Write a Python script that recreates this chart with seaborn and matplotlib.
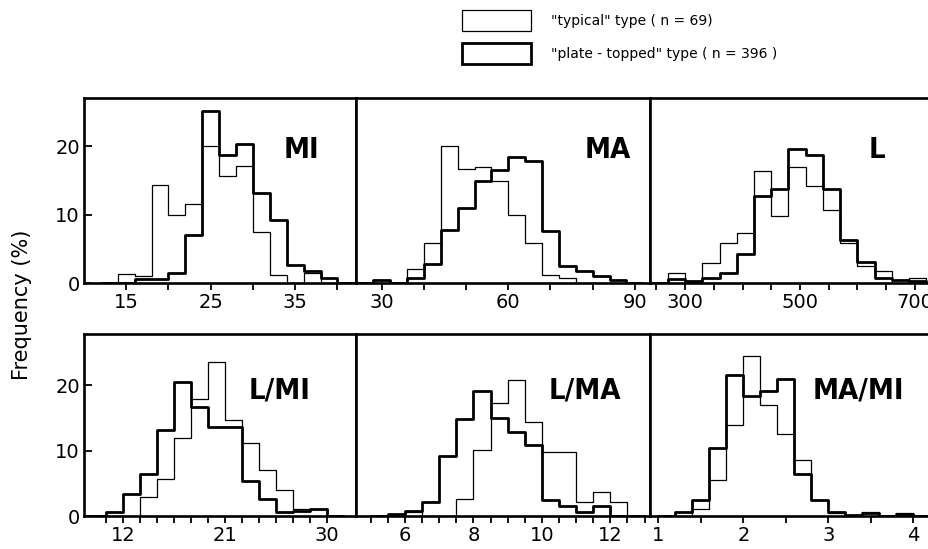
import numpy as np
import pandas as pd
import matplotlib.pyplot as plt
import seaborn as sns
from matplotlib.patches import Patch

# bin edges and frequencies (%)
mi_bins = [12, 14, 16, 18, 20, 22, 24, 26, 28, 30, 32, 34, 36, 38, 40, 42]
mi_typical = [0, 1.3, 1.0, 14.3, 10.0, 11.5, 20.0, 15.7, 17.2, 7.4, 1.2, 0, 1.5, 0, 0]
mi_plate = [0, 0, 0.6, 0.6, 1.4, 7.0, 25.2, 18.8, 20.4, 13.2, 9.2, 2.6, 1.8, 0.8, 0]

ma_bins = [24, 28, 32, 36, 40, 44, 48, 52, 56, 60, 64, 68, 72, 76, 80, 84, 88, 92]
ma_typical = [0, 0, 0, 2.0, 5.9, 20.0, 16.7, 17.0, 15.0, 9.9, 5.8, 1.2, 0.7, 0, 0, 0, 0]
ma_plate = [0, 0.5, 0, 0.8, 2.8, 7.8, 11.0, 15.0, 16.5, 18.4, 17.9, 7.6, 2.5, 1.8, 1.0, 0.5, 0]

l_bins = [240, 270, 300, 330, 360, 390, 420, 450, 480, 510, 540, 570, 600, 630, 660, 690, 720, 750]
l_typical = [0, 1.5, 0, 2.9, 5.8, 7.3, 16.4, 9.8, 17.0, 14.2, 10.7, 5.8, 2.5, 1.7, 0, 0.7, 0]
l_plate = [0, 0.6, 0.3, 0.7, 1.5, 4.2, 12.8, 13.7, 19.6, 18.8, 13.8, 6.3, 3.1, 0.7, 0.4, 0.3, 0]

lmi_bins = [9, 10.5, 12, 13.5, 15, 16.5, 18, 19.5, 21, 22.5, 24, 25.5, 27, 28.5, 30, 31.5]
lmi_typical = [0, 0, 0, 2.9, 5.6, 11.9, 17.8, 23.5, 14.7, 11.2, 7.0, 3.9, 1.0, 1.1, 0]
lmi_plate = [0, 0.6, 3.4, 6.4, 13.1, 20.4, 16.6, 13.6, 13.6, 5.3, 2.6, 0.6, 0.7, 1.0, 0]

lma_bins = [5.0, 5.5, 6.0, 6.5, 7.0, 7.5, 8.0, 8.5, 9.0, 9.5, 10.0, 10.5, 11.0, 11.5, 12.0, 12.5, 13.0]
lma_typical = [0, 0.2, 0.6, 0, 0, 2.6, 10.1, 17.2, 20.7, 14.3, 9.8, 9.8, 2.2, 3.6, 2.2, 0]
lma_plate = [0, 0.3, 0.7, 2.1, 9.1, 14.8, 19.1, 14.9, 12.9, 10.9, 2.5, 1.5, 0.6, 1.5, 0, 0]

mami_bins = [1.0, 1.2, 1.4, 1.6, 1.8, 2.0, 2.2, 2.4, 2.6, 2.8, 3.0, 3.2, 3.4, 3.6, 3.8, 4.0, 4.2]
mami_typical = [0, 0, 1.1, 5.5, 13.9, 24.4, 17.0, 12.6, 8.6, 2.4, 0.5, 0, 0.6, 0, 0.5, 0]
mami_plate = [0, 0.6, 2.5, 10.4, 21.5, 18.3, 19.1, 20.9, 6.4, 2.4, 0.6, 0.2, 0.5, 0, 0.3, 0]

panel_names = ["MI", "MA", "L", "L/MI", "L/MA", "MA/MI"]
legend_labels = ['"typical" type ( n = 69)', '"plate - topped" type ( n = 396 )']

panels = [
    (mi_bins, mi_typical, mi_plate),
    (ma_bins, ma_typical, ma_plate),
    (l_bins, l_typical, l_plate),
    (lmi_bins, lmi_typical, lmi_plate),
    (lma_bins, lma_typical, lma_plate),
    (mami_bins, mami_typical, mami_plate),
]

# axis settings: xlim, tick positions, labelled ticks
xlims = [(10.0, 42.2), (23.9, 93.6), (239, 735), (8.53, 32.54), (4.57, 13.16), (0.902, 4.255)]
xticks = [
    [15, 20, 25, 30, 35, 40],
    [30, 40, 50, 60, 70, 80, 90],
    [250, 300, 350, 400, 450, 500, 550, 600, 650, 700],
    [10.5, 12, 13.5, 15, 16.5, 18, 19.5, 21, 22.5, 24, 25.5, 27, 28.5, 30],
    [5, 5.5, 6, 6.5, 7, 7.5, 8, 8.5, 9, 9.5, 10, 10.5, 11, 11.5, 12, 12.5, 13],
    [1, 1.5, 2, 2.5, 3, 3.5, 4],
]
xlabeled = [[15, 25, 35], [30, 60, 90], [300, 500, 700], [12, 21, 30], [6, 8, 10, 12], [1, 2, 3, 4]]
name_pos = [(0.8, 0.72), (0.855, 0.72), (0.795, 0.72), (0.72, 0.69), (0.78, 0.69), (0.73, 0.69)]

sns.set_style("white")
plt.rcParams["font.family"] = ["DejaVu Sans"]
plt.rcParams["text.color"] = "black"
plt.rcParams["xtick.color"] = "black"
plt.rcParams["ytick.color"] = "black"

W, H = 929, 549
fig = plt.figure(figsize=(W / 100, H / 100), dpi=100)

col_px = [84, 356, 650, 935]
row_px = [(98, 283), (334, 516)]
ylims = [27.1, 27.8]

for i, (bins, typ, plate) in enumerate(panels):
    r, c = divmod(i, 3)
    x0, x1 = col_px[c], col_px[c + 1]
    t, b = row_px[r]
    ax = fig.add_axes([x0 / W, 1 - b / H, (x1 - x0) / W, (b - t) / H])

    centers = [(bins[k] + bins[k + 1]) / 2 for k in range(len(bins) - 1)]
    df = pd.DataFrame({"x": centers, "typical": typ, "plate": plate})
    sns.histplot(data=df, x="x", weights="typical", bins=bins, element="step",
                 fill=False, color="black", linewidth=0.9, ax=ax)
    sns.histplot(data=df, x="x", weights="plate", bins=bins, element="step",
                 fill=False, color="black", linewidth=2.0, ax=ax)

    ax.set_xlim(*xlims[i])
    ax.set_ylim(0, ylims[r])
    ax.set_xlabel("")
    ax.set_ylabel("")
    ax.set_xticks(xticks[i])
    ax.set_xticklabels([f"{v:g}" if v in xlabeled[i] else "" for v in xticks[i]])
    ax.tick_params(axis="x", direction="out", length=5, width=1.3, labelsize=14, pad=2,
                   bottom=True)
    if c == 0:
        ax.set_yticks([0, 10, 20])
        ax.tick_params(axis="y", direction="in", length=6, width=1.3, labelsize=14, pad=3,
                       left=True)
    else:
        ax.set_yticks([])
    for s in ax.spines.values():
        s.set_linewidth(1.9)
        s.set_color("black")

    ax.text(name_pos[i][0], name_pos[i][1], panel_names[i], transform=ax.transAxes,
            ha="center", va="center", fontsize=21, fontweight="bold",
            fontstretch="condensed")

fig.text(22 / W, 1 - 305 / H, "Frequency (%)", rotation=90, ha="center", va="center",
         fontsize=15)

handles = [Patch(facecolor="white", edgecolor="black", linewidth=0.9),
           Patch(facecolor="white", edgecolor="black", linewidth=2.0)]
fig.legend(handles, legend_labels, loc="upper left", bbox_to_anchor=(462 / W, 1 - 10 / H),
           frameon=False, fontsize=10, handlelength=5.0, handleheight=1.9,
           handletextpad=1.4, labelspacing=0.9, borderpad=0, borderaxespad=0)

fig.savefig("out.png", dpi=100)
